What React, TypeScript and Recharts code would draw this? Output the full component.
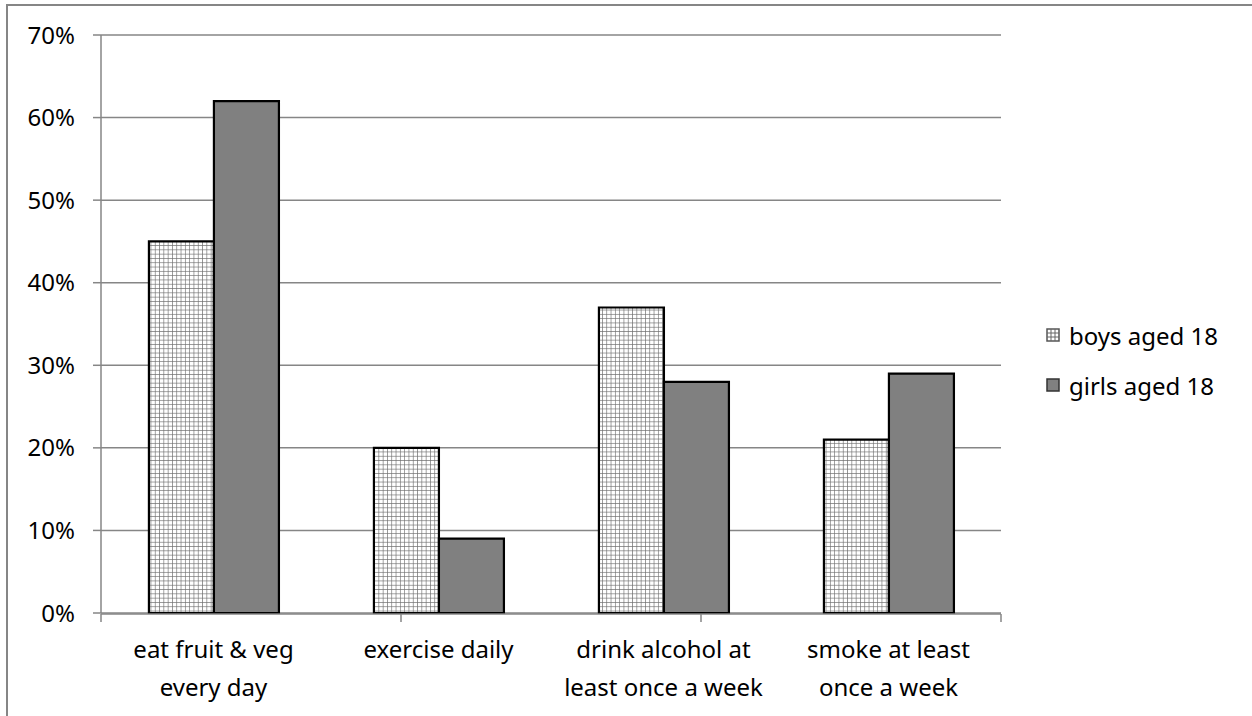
import React from 'react';
import { BarChart, Bar, XAxis, YAxis, CartesianGrid, Legend } from 'recharts';

const categories = ['eat fruit & veg\nevery day', 'exercise daily', 'drink alcohol at\nleast once a week', 'smoke at least\nonce a week'];
const boys = [45, 20, 37, 21];
const girls = [62, 9, 28, 29];
const yTicks = [0, 10, 20, 30, 40, 50, 60, 70];
const edgeTicks = [0, 1, 2, 3, 4];
const seriesNames = ['boys aged 18', 'girls aged 18'];

const data = categories.map((c, i) => ({ name: c, boys: boys[i], girls: girls[i] }));

const FONT = '"Noto Sans", "Open Sans", sans-serif';
const FS = 24;
const AXIS = '#868686';

function CategoryTick({ x, y, payload }: any) {
  const lines = String(payload.value).split('\n');
  return (
    <text x={x} y={y} textAnchor="middle" fontSize={FS} fontFamily={FONT} fill="#000">
      {lines.map((l, i) => (
        <tspan key={i} x={x} dy={i === 0 ? 45 : 38}>{l}</tspan>
      ))}
    </text>
  );
}

function Swatch({ kind }: { kind: number }) {
  return (
    <svg width={14} height={14} style={{ marginRight: 9, flex: 'none' }}>
      {kind === 0 ? (
        <>
          <rect x={1} y={1} width={12} height={12} fill="#fff" stroke="#555" strokeWidth={1.5} />
          <path d="M5 1V13M9 1V13M1 5H13M1 9H13" stroke="#666" strokeWidth={1} />
        </>
      ) : (
        <rect x={1} y={1} width={12} height={12} fill="#808080" stroke="#333" strokeWidth={1.5} />
      )}
    </svg>
  );
}

function LegendBox() {
  return (
    <div style={{ fontFamily: FONT, fontSize: FS, color: '#000' }}>
      {seriesNames.map((n, i) => (
        <div key={n} style={{ display: 'flex', alignItems: 'center', height: 50 }}>
          <Swatch kind={i} />
          <span>{n}</span>
        </div>
      ))}
    </div>
  );
}

export default function App() {
  return (
    <div style={{ position: 'absolute', left: 0, top: 0, width: 1252, height: 716, background: '#fff', overflow: 'hidden' }}>
      <div style={{ position: 'absolute', left: 6, top: 4, width: 1252, height: 716, borderTop: `2px solid ${AXIS}`, borderLeft: `2px solid ${AXIS}` }} />
      <BarChart
        width={1252}
        height={716}
        data={data}
        margin={{ top: 35, right: 251, bottom: 101, left: 0 }}
        barGap={0}
        barCategoryGap="21.3%"
        style={{ position: 'absolute', left: 0, top: 0 }}
      >
        <defs>
          <pattern id="boysGrid" width={4.3} height={4.3} patternUnits="userSpaceOnUse">
            <rect width={4.3} height={4.3} fill="#fff" />
            <path d="M0 0H4.3M0 0V4.3" stroke="#6e6e6e" strokeWidth={1.3} />
          </pattern>
        </defs>
        <CartesianGrid vertical={false} stroke={AXIS} strokeWidth={1.5} />
        <XAxis
          xAxisId="edge"
          type="number"
          domain={[0, 4]}
          ticks={edgeTicks}
          height={1}
          tickSize={8}
          tickFormatter={() => ''}
          stroke={AXIS}
          axisLine={{ stroke: AXIS, strokeWidth: 1.5 }}
          tickLine={{ stroke: AXIS, strokeWidth: 1.5 }}
          allowDataOverflow
        />
        <XAxis
          xAxisId="cat"
          dataKey="name"
          height={1}
          axisLine={false}
          tickLine={false}
          tickSize={0}
          tickMargin={0}
          interval={0}
          tick={<CategoryTick />}
        />
        <YAxis
          width={101}
          domain={[0, 70]}
          ticks={yTicks}
          tickFormatter={(v) => `${v}%`}
          tickSize={8}
          tickMargin={18}
          axisLine={{ stroke: AXIS, strokeWidth: 1.5 }}
          tickLine={{ stroke: AXIS, strokeWidth: 1.5 }}
          tick={{ fontSize: FS, fontFamily: FONT, fill: '#000' }}
        />
        <Legend
          layout="horizontal"
          verticalAlign="middle"
          align="center"
          wrapperStyle={{ left: 1046, top: 310, width: 206 }}
          content={() => <LegendBox />}
        />
        <Bar xAxisId="cat" dataKey="boys" name={seriesNames[0]} fill="url(#boysGrid)" stroke="#000" strokeWidth={2.2} isAnimationActive={false} />
        <Bar xAxisId="cat" dataKey="girls" name={seriesNames[1]} fill="#808080" stroke="#000" strokeWidth={2.2} isAnimationActive={false} />
      </BarChart>
    </div>
  );
}
